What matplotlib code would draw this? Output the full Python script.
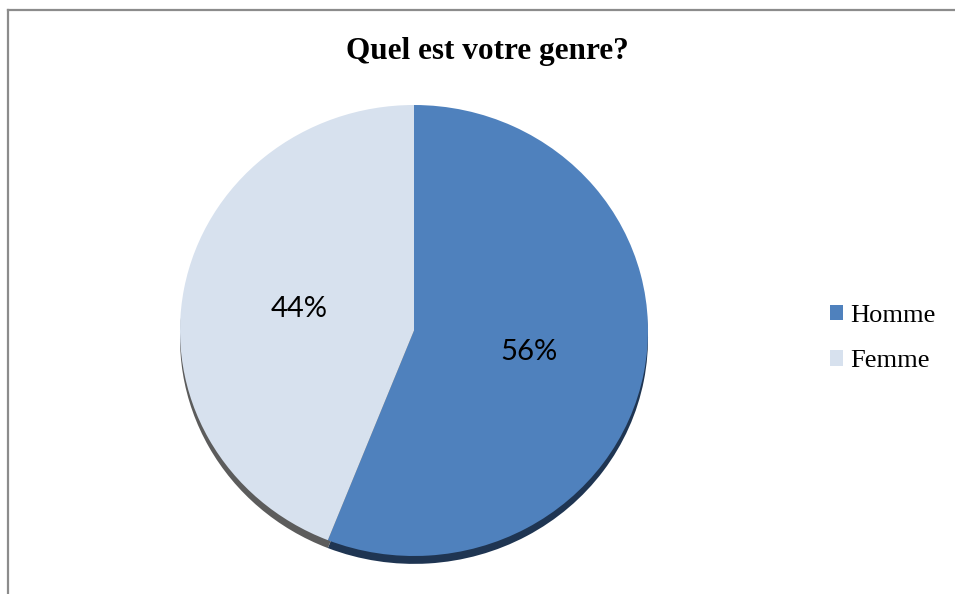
import matplotlib

matplotlib.use("Agg")
import matplotlib.pyplot as plt
from matplotlib.lines import Line2D

# data
labels = ["Homme", "Femme"]
shares = [56, 44]
face_colors = ["#4f81bd", "#d7e1ee"]
edge_colors = ["#1f3552", "#5c5c5c"]
title = "Quel est votre genre?"

W, H = 955, 594
fig = plt.figure(figsize=(W / 100, H / 100), dpi=100)
fig.patch.set_facecolor("white")

# chart border (only top and left visible in the reference)
border = dict(color="#8c8c8c", linewidth=1.6, transform=fig.transFigure)
fig.add_artist(Line2D([7.5 / W, 1.0], [1 - 9.5 / H, 1 - 9.5 / H], **border))
fig.add_artist(Line2D([7.5 / W, 7.5 / W], [0.0, 1 - 9.5 / H], **border))

# pie face box in pixels: x 180..648, y 105..556
pad = 1.1
cx, cy = 414.0, 330.5
rx, ry = 234.0, 225.5
ax = fig.add_axes([
    (cx - rx * pad) / W,
    (H - cy - ry * pad) / H,
    2 * rx * pad / W,
    2 * ry * pad / H,
])

# darker copy slightly lower gives the 3d edge
ax.pie(shares, colors=edge_colors, startangle=90, counterclock=False,
       center=(0, -0.035), frame=True)
wedges, _, pct_texts = ax.pie(
    shares, colors=face_colors, startangle=90, counterclock=False,
    autopct="%1.0f%%", pctdistance=0.5, frame=True,
    textprops=dict(fontsize=21, family="Lato", color="black"),
)
ax.set_xlim(-pad, pad)
ax.set_ylim(-pad, pad)
ax.set_aspect("auto")
ax.axis("off")

fig.text(487 / W, 1 - 52 / H, title, ha="center", va="center",
         fontsize=22.5, fontweight="bold", family="Liberation Serif")

fig.legend(wedges, labels, loc="center left",
           bbox_to_anchor=(806 / W, 1 - 338.5 / H),
           frameon=False, handlelength=0.5, handleheight=0.5,
           handletextpad=0.27, labelspacing=0.9,
           prop=dict(family="Liberation Serif", size=19))

fig.savefig("out.png", dpi=100, facecolor=fig.get_facecolor())
